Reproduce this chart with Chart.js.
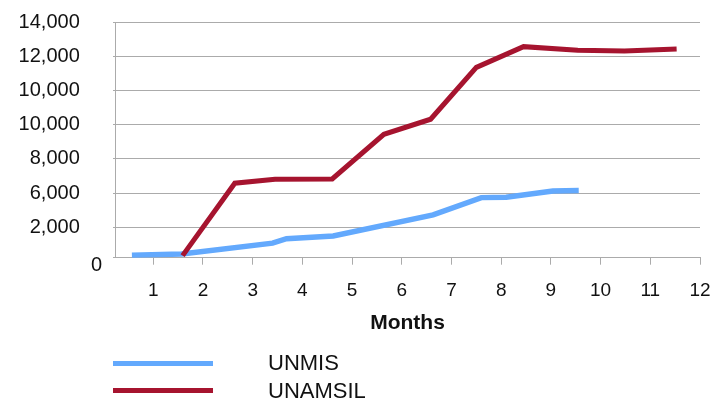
<!DOCTYPE html>
<html>
<head>
<meta charset="utf-8">
<title>UNMIS / UNAMSIL deployment</title>
<script src="https://cdn.jsdelivr.net/npm/chart.js@4/dist/chart.umd.min.js"></script>
<style>
    html, body { margin: 0; padding: 0; background: #fff; }
    #wrap { position: relative; width: 728px; height: 405px; }
    #chart { position: absolute; left: 0; top: 0; }
    .legend-row {
        position: absolute; left: 113px; width: 400px; height: 24px;
        font-family: 'Liberation Sans', Arial, sans-serif; font-size: 22px; color: #111;
    }
    .legend-row .swatch { position: absolute; left: 0; top: 9.5px; width: 100px; height: 5px; }
    .legend-row .text { position: absolute; left: 155px; top: 0; line-height: 24px; }
</style>
</head>
<body>
<div id="wrap">
    <canvas id="chart" width="728" height="405"></canvas>
    <div id="legend"></div>
</div>
<script>
// month positions (fractional) and deployed strength of each mission
const unmisMonths = [0.57, 1.57, 3.40, 3.68, 4.62, 6.63, 7.60, 8.10, 9.04, 9.56];
const unmisValues = [380, 450, 1080, 1340, 1500, 2730, 3740, 3760, 4130, 4150];

const unamsilMonths = [1.59, 2.64, 3.45, 4.60, 5.64, 6.58, 7.50, 8.45, 9.54, 10.48, 11.53];
const unamsilValues = [350, 4580, 4810, 4830, 7440, 8320, 11350, 12560, 12350, 12300, 12420];

const monthTicks = [1, 2, 3, 4, 5, 6, 7, 8, 9, 10, 11, 12];

// axis labels as printed; the first one sits at the base of the axis
const yTickValues = [230, 2000, 4000, 6000, 8000, 10000, 12000, 14000];
const yTickLabels = ['0', '2,000', '6,000', '8,000', '10,000', '10,000', '12,000', '14,000'];

const seriesNames = ['UNMIS', 'UNAMSIL'];
const seriesColors = ['#63a9fd', '#a6142f'];

const TEXT = '#111111';
const GRID = '#ababab';

Chart.defaults.font.family = "'Liberation Sans', Arial, sans-serif";
Chart.defaults.color = TEXT;

/**
 * pairs a list of months with a list of values for a linear x axis
 */
function toPoints(months, values) {
    return months.map(function (m, i) { return {x: m, y: values[i]}; });
}

/**
 * y tick text: the zero drops below the corner, the others are
 * pushed left of it with trailing spaces
 */
function yLabel(index) {
    if (index === 0) {
        return ['', yTickLabels[0]];
    }
    return yTickLabels[index] + '    ';
}

let chart = new Chart(document.getElementById('chart'), {
    type: 'line',
    data: {
        datasets: [{
            label: seriesNames[0],
            data: toPoints(unmisMonths, unmisValues),
            borderColor: seriesColors[0],
            borderWidth: 5.5,
            pointRadius: 0,
            tension: 0,
            order: 1
        }, {
            label: seriesNames[1],
            data: toPoints(unamsilMonths, unamsilValues),
            borderColor: seriesColors[1],
            borderWidth: 5,
            pointRadius: 0,
            tension: 0,
            order: 0
        }]
    },
    options: {
        responsive: false,
        animation: false,
        devicePixelRatio: 1,
        layout: {padding: {left: 0, right: 28, top: 22, bottom: 69.4}},
        plugins: {
            legend: {display: false},
            tooltip: {enabled: false}
        },
        scales: {
            x: {
                type: 'linear',
                min: 0.23,
                max: 12,
                afterBuildTicks: function (scale) {
                    scale.ticks = monthTicks.map(function (v) { return {value: v}; });
                },
                afterFit: function (scale) { scale.height = 77.9; },
                grid: {drawOnChartArea: false, drawTicks: true, tickLength: 7, color: GRID},
                border: {color: GRID},
                ticks: {
                    padding: 15,
                    autoSkip: false,
                    maxRotation: 0,
                    font: {size: 19},
                    callback: function (v) { return String(v); }
                },
                title: {
                    display: true,
                    text: 'Months',
                    font: {size: 21, weight: 'bold'},
                    padding: 0
                }
            },
            y: {
                type: 'linear',
                min: yTickValues[0],
                max: 14000,
                afterBuildTicks: function (scale) {
                    scale.ticks = yTickValues.map(function (v) { return {value: v}; });
                },
                afterFit: function (scale) {
                    scale.width = 115;
                    scale.paddingTop = 12;
                    scale.paddingBottom = 12;
                },
                grid: {color: GRID, drawTicks: true, tickLength: 2},
                border: {color: GRID},
                ticks: {
                    padding: 11,
                    autoSkip: false,
                    font: {size: 20, lineHeight: 0.8},
                    callback: function (v, i) { return yLabel(i); }
                }
            }
        }
    }
});

// legend below the chart: long line swatch, label further to the right
let legendTops = [351, 378.5];
let legendHtml = '';
for (let i = 0; i < seriesNames.length; i++) {
    legendHtml += '<div class="legend-row" style="top:' + legendTops[i] + 'px">' +
        '<span class="swatch" style="background:' + seriesColors[i] + '"></span>' +
        '<span class="text">' + seriesNames[i] + '</span></div>';
}
document.getElementById('legend').innerHTML = legendHtml;
</script>
</body>
</html>
